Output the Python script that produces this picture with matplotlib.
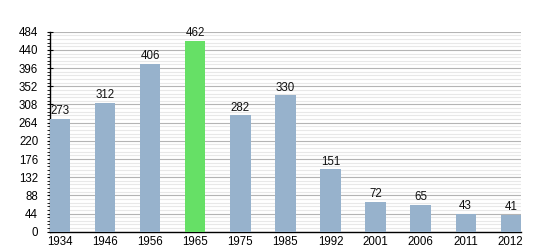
import matplotlib
matplotlib.use("Agg")
import matplotlib.pyplot as plt
from matplotlib.ticker import MultipleLocator

years = ["1934", "1946", "1956", "1965", "1975", "1985", "1992", "2001", "2006", "2011", "2012"]
population = [273, 312, 406, 462, 282, 330, 151, 72, 65, 43, 41]
highlight = "1965"

blue = "#97b2cc"
green = "#66e066"

plt.rcParams['font.family'] = ['Liberation Sans', 'DejaVu Sans']

fig = plt.figure(figsize=(5.5, 2.5), dpi=100)
ax = fig.add_axes([0.091, 0.073, 0.856, 0.800])

x = list(range(len(years)))
colors = [green if y == highlight else blue for y in years]
ax.bar(x, population, width=0.45, color=colors, zorder=3)

for xi, v in zip(x, population):
    ax.text(xi, v + 4, str(v), ha="center", va="bottom", fontsize=8.3, color="#111111", zorder=4)

ax.set_xlim(-0.225, len(years) - 1 + 0.225)
ax.set_ylim(0, 484)
ax.yaxis.set_major_locator(MultipleLocator(44))
ax.yaxis.set_minor_locator(MultipleLocator(8.8))
ax.set_xticks(x)
ax.set_xticklabels(years)

ax.grid(axis="y", which="major", color="#b4b4b4", linewidth=0.8, zorder=0)
ax.grid(axis="y", which="minor", color="#e8e8e8", linewidth=0.8, zorder=0)

for s in ["top", "right"]:
    ax.spines[s].set_visible(False)
ax.spines["left"].set_linewidth(1.0)
ax.spines["bottom"].set_linewidth(1.0)

ax.tick_params(axis="y", which="major", direction="inout", length=5, width=0.8, labelsize=8.3, pad=6)
ax.tick_params(axis="y", which="minor", direction="out", length=2, width=0.6)
ax.tick_params(axis="x", which="both", length=0, labelsize=8.3, pad=3)

fig.savefig("out.png", dpi=100)
